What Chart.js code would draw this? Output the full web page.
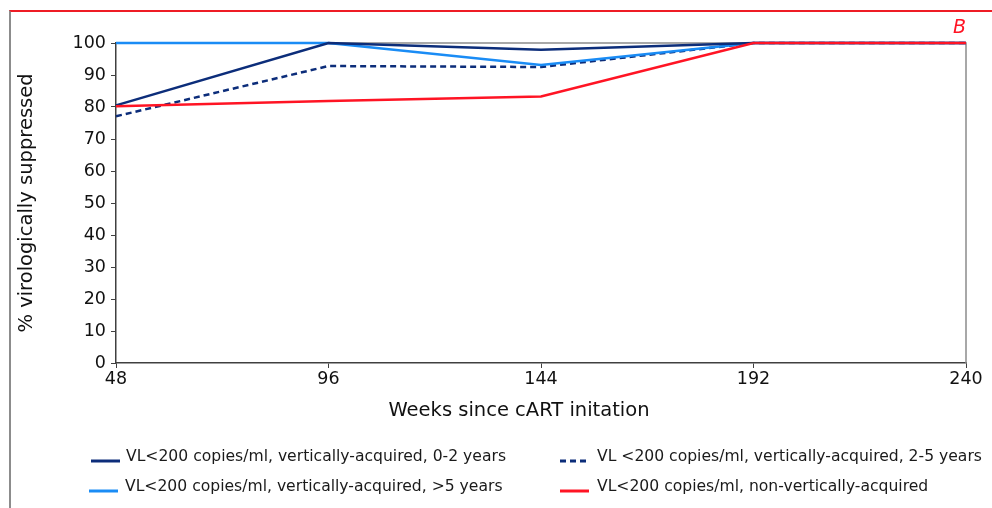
<!DOCTYPE html>
<html>
<head>
<meta charset="utf-8">
<script src="https://cdn.jsdelivr.net/npm/chart.js@4"></script>
<style>
  html, body { margin: 0; padding: 0; background: #fff; }
  #wrap { position: relative; width: 992px; height: 508px; }
  #frame {
    position: absolute; left: 9px; top: 10px; right: 0; bottom: 0;
    border-top: 2px solid #ee1c25; border-left: 2px solid #8c8c8c;
    pointer-events: none;
  }
</style>
</head>
<body>
<div id="wrap">
  <canvas id="vlChart" width="992" height="508"></canvas>
  <div id="frame"></div>
</div>
<script>
// Weeks since cART start and % with VL < 200 copies/ml per group
const weeks = ['48', '96', '144', '192', '240'];
const vertical0to2 = [80.5, 100, 97.9, 100, 100];
const vertical2to5 = [77.1, 92.8, 92.5, 100, 100];
const verticalOver5 = [100, 100, 93.1, 100, 100];
const nonVertical = [80.2, 81.9, 83.3, 100, 100];
const yTicks = [0, 10, 20, 30, 40, 50, 60, 70, 80, 90, 100];

const NAVY = '#0c2d7a';
const SKY = '#1a8cf5';
const RED = '#ff1424';
const FONT = 'Verdana, "DejaVu Sans", sans-serif';

// Box edges on top and right of the plot, x title, panel letter and a two-column legend
const extras = {
    id: 'extras',
    beforeDatasetsDraw(chart) {
        const ctx = chart.ctx;
        const a = chart.chartArea;
        ctx.save();
        ctx.strokeStyle = '#8c8c8c';
        ctx.lineWidth = 1.5;
        ctx.beginPath();
        ctx.moveTo(a.left, a.top);
        ctx.lineTo(a.right, a.top);
        ctx.lineTo(a.right, a.bottom);
        ctx.stroke();
        ctx.restore();
    },
    afterDraw(chart) {
        const ctx = chart.ctx;
        const a = chart.chartArea;
        ctx.save();
        ctx.textBaseline = 'middle';

        ctx.fillStyle = '#111';
        ctx.font = '19.5px ' + FONT;
        ctx.textAlign = 'center';
        ctx.fillText('Weeks since cART initation', 519, 411);

        ctx.fillStyle = RED;
        ctx.font = 'italic 19px ' + FONT;
        ctx.textAlign = 'right';
        ctx.fillText('B', a.right, 28);

        // legend slots: [sampleX, sampleY, textX, textY]
        const slots = [[91, 461, 126, 457], [560, 461, 597, 457], [89, 491, 125, 487], [560, 491, 597, 487]];
        ctx.font = '15.6px ' + FONT;
        ctx.textAlign = 'left';
        chart.data.datasets.forEach(ds => {
            const [sx, sy, tx, ty] = slots[ds.legendSlot];
            ctx.strokeStyle = ds.borderColor;
            ctx.lineWidth = 3;
            ctx.setLineDash(ds.borderDash || []);
            ctx.beginPath();
            ctx.moveTo(sx, sy);
            ctx.lineTo(sx + 29, sy);
            ctx.stroke();
            ctx.setLineDash([]);
            ctx.fillStyle = '#1a1a1a';
            ctx.fillText(ds.label, tx, ty);
        });
        ctx.restore();
    }
};

new Chart(document.getElementById('vlChart'), {
    type: 'line',
    data: {
        labels: weeks,
        datasets: [{
            label: 'VL<200 copies/ml, non-vertically-acquired',
            data: nonVertical,
            borderColor: RED,
            order: 0,
            legendSlot: 3
        }, {
            label: 'VL<200 copies/ml, vertically-acquired, 0-2 years',
            data: vertical0to2,
            borderColor: NAVY,
            order: 1,
            legendSlot: 0
        }, {
            label: 'VL<200 copies/ml, vertically-acquired, >5 years',
            data: verticalOver5,
            borderColor: SKY,
            order: 2,
            legendSlot: 2
        }, {
            label: 'VL <200 copies/ml, vertically-acquired, 2-5 years',
            data: vertical2to5,
            borderColor: NAVY,
            borderDash: [6, 4],
            order: 3,
            legendSlot: 1
        }]
    },
    options: {
        responsive: false,
        animation: false,
        layout: { padding: { top: 43, right: 26, left: 0, bottom: 0 } },
        datasets: { line: { clip: false } },
        elements: {
            line: { borderWidth: 2.5, tension: 0, fill: false },
            point: { radius: 0, hoverRadius: 0 }
        },
        plugins: {
            legend: { display: false },
            tooltip: { enabled: false }
        },
        scales: {
            x: {
                offset: false,
                afterFit: s => { s.height = 145; },
                grid: { drawOnChartArea: false, tickLength: 5, color: '#404040' },
                border: { color: '#404040', width: 1.5 },
                ticks: { color: '#111', font: { family: FONT, size: 17.5 }, padding: 1, maxRotation: 0 }
            },
            y: {
                min: 0,
                max: 100,
                afterFit: s => { s.width = 116; },
                afterBuildTicks: s => { s.ticks = yTicks.map(v => ({ value: v })); },
                grid: { drawOnChartArea: false, tickLength: 5, color: '#404040' },
                border: { color: '#404040', width: 1.5 },
                ticks: { color: '#111', font: { family: FONT, size: 17.5 }, padding: 5 },
                title: {
                    display: true,
                    text: '% virologically suppressed',
                    color: '#111',
                    font: { family: FONT, size: 19.5 },
                    padding: { top: 15 }
                }
            }
        }
    },
    plugins: [extras]
});
</script>
</body>
</html>
